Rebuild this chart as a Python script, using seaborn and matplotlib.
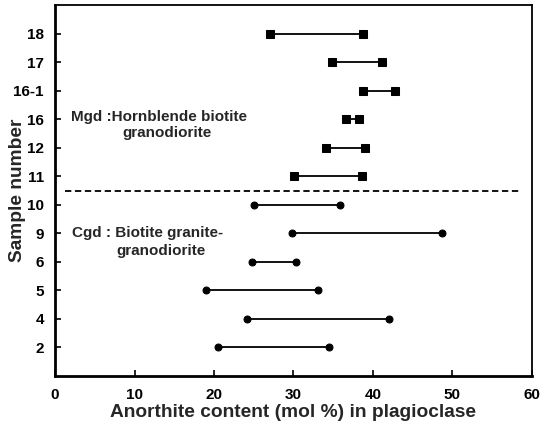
import matplotlib
matplotlib.use("Agg")
import matplotlib.pyplot as plt
import seaborn as sns
import pandas as pd

samples = ["2", "4", "5", "6", "9", "10", "11", "12", "16", "16-1", "17", "18"]
an_min = [20.5, 24.2, 19.0, 24.8, 29.8, 25.0, 30.1, 34.1, 36.6, 38.7, 34.9, 27.1]
an_max = [34.5, 42.0, 33.1, 30.3, 48.7, 35.8, 38.6, 39.0, 38.3, 42.8, 41.2, 38.7]
groups = ["Cgd"] * 6 + ["Mgd"] * 6

rows = []
for i, (s, lo, hi, g) in enumerate(zip(samples, an_min, an_max, groups)):
    for v in (lo, hi):
        rows.append({"sample": s, "pos": i + 1, "an": v, "group": g})
df = pd.DataFrame(rows)

sns.set_theme(style="ticks")
plt.rcParams["font.family"] = ["Liberation Sans", "DejaVu Sans"]
plt.rcParams["font.weight"] = "bold"

fig = plt.figure(figsize=(5.4, 4.28), dpi=100)
ax = fig.add_axes([0.102, 0.1215, 0.883, 0.8665])

for g, mk, ms in (("Cgd", "o", 5), ("Mgd", "s", 6)):
    sub = df[df["group"] == g]
    sns.lineplot(data=sub, x="an", y="pos", units="sample", estimator=None,
                 sort=False, orient="y", color="black", lw=1.3,
                 marker=mk, markersize=ms, markeredgecolor="black",
                 legend=False, ax=ax)

ax.axhline(6.5, xmin=0.02, xmax=0.975, color="black", lw=1.3, ls=(0, (3.5, 2)))

ax.set_xlim(0, 60)
ax.set_ylim(0, 13)
ax.set_xticks([0, 10, 20, 30, 40, 50, 60])
ax.set_yticks(range(1, len(samples) + 1))
ax.set_yticklabels(samples)
ax.tick_params(direction="in", length=4, width=1.2, labelsize=11, colors="black")
for lab in ax.get_xticklabels() + ax.get_yticklabels():
    lab.set_fontweight("bold")
ax.tick_params(axis="x", pad=9)
ax.tick_params(axis="y", pad=8)

for side in ("left", "bottom"):
    ax.spines[side].set_linewidth(2.0)
for side in ("top", "right"):
    ax.spines[side].set_linewidth(1.3)
for sp in ax.spines.values():
    sp.set_color("black")

ax.set_xlabel("Anorthite content (mol %) in plagioclase", fontsize=13.8,
              fontweight="bold", labelpad=1)
ax.set_ylabel("Sample number", fontsize=13.8, fontweight="bold")
ax.yaxis.set_label_coords(-0.062, 0.5)

ax.text(1.95, 9.07, "Mgd :Hornblende biotite", fontsize=11, fontweight="bold",
        ha="left", va="center")
ax.text(14.1, 8.52, "granodiorite", fontsize=11, fontweight="bold",
        ha="center", va="center")
ax.text(2.1, 5.03, "Cgd : Biotite granite-", fontsize=11, fontweight="bold",
        ha="left", va="center")
ax.text(13.3, 4.37, "granodiorite", fontsize=11, fontweight="bold",
        ha="center", va="center")

fig.savefig("out.png", dpi=100)
